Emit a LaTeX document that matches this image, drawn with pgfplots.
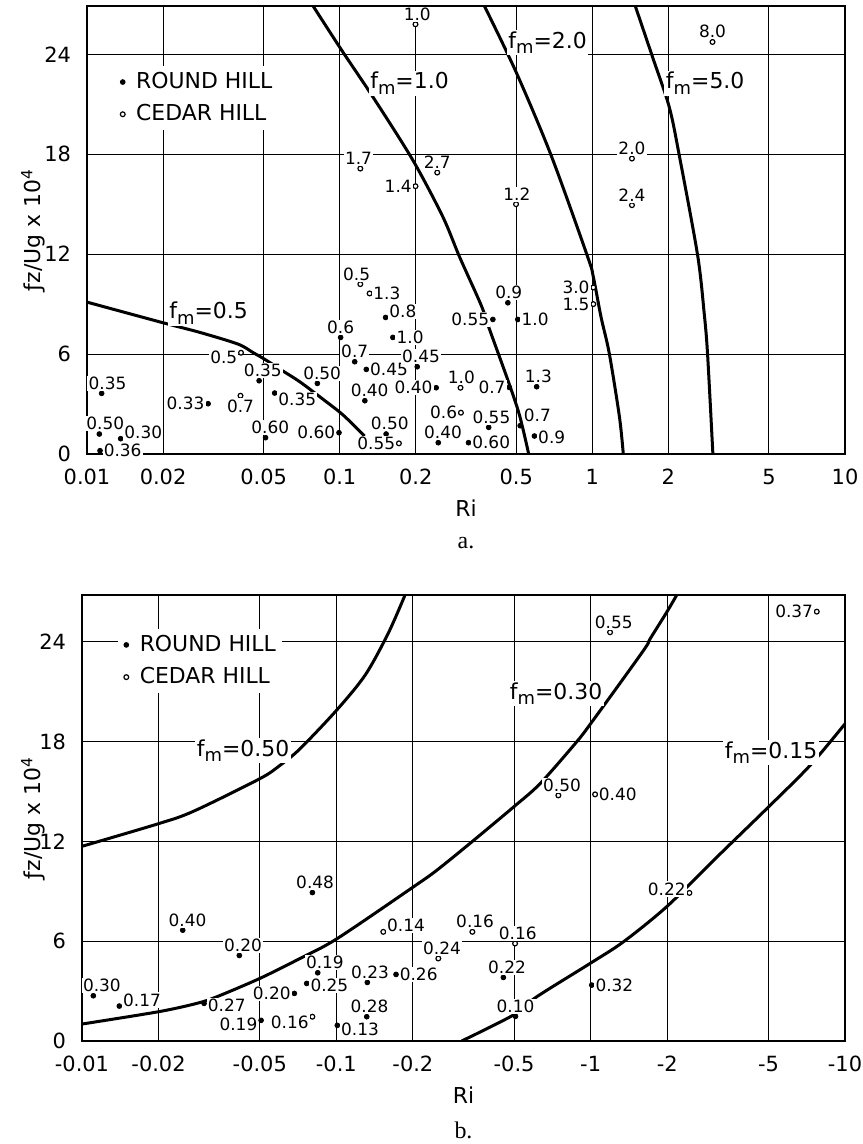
\documentclass[border=0pt]{standalone}
\usepackage{fontspec}
\setmainfont{DejaVu Sans}
\newfontfamily\capfont{Liberation Serif}
\usepackage{pgfplots}
\usepackage{pgfplotstable}
\pgfplotsset{compat=1.18}

% lab column: label text : anchor angle of the label
\pgfplotstableread{
x y lab
0.01143 3.64 0.35:240
0.01119 1.20 0.50:240
0.01359 0.92 0.30:195
0.01126 0.20 0.36:180
0.03016 3.02 0.33:0
0.0480 4.40 0.35:250
0.0509 0.98 0.60:245
0.0553 3.66 0.35:165
0.0816 4.24 0.50:245
0.0994 1.28 0.60:0
0.1009 7.0 0.6:270
0.1147 5.54 0.7:270
0.1275 5.08 0.45:180
0.1258 3.2 0.40:245
0.1520 8.2 0.8:200
0.1624 7.0 1.0:180
0.2028 5.24 0.45:250
0.241 3.98 0.40:0
0.1527 1.2 0.50:250
0.2456 0.68 0.40:245
0.3236 0.68 0.60:180
0.389 1.6 0.55:255
0.469 4.0 0.7:0
0.518 1.7 0.7:210
0.590 1.08 0.9:175
0.602 4.04 1.3:260
0.404 8.08 0.55:0
0.507 8.08 1.0:180
0.463 9.08 0.9:265
}\aRound

\pgfplotstableread{
x y lab
0.0405 3.5 0.7:90
0.0407 6.08 0.5:15
0.1716 0.64 0.55:0
0.3008 3.98 1.0:265
0.302 2.48 0.6:0
0.1207 10.2 0.5:290
0.1314 9.64 1.3:180
0.1207 17.14 1.7:280
0.2433 16.9 2.7:270
0.1996 16.08 1.4:0
0.1996 25.8 1.0:260
0.499 15.0 1.2:265
2.99 24.74 8.0:270
1.435 17.74 2.0:270
1.435 14.94 2.4:270
1.009 10.0 3.0:0
1.009 9.0 1.5:0
}\aCedar

\pgfplotstableread{
x y lab
0.01108 2.72 0.30:230
0.01402 2.1 0.17:195
0.02489 6.66 0.40:245
0.04155 5.14 0.20:250
0.0302 2.26 0.27:175
0.0506 1.24 0.19:10
0.0684 2.86 0.20:0
0.1009 0.94 0.13:170
0.0765 3.46 0.25:175
0.0845 4.1 0.19:235
0.0805 8.92 0.48:255
0.1324 3.52 0.23:255
0.1317 1.46 0.28:255
0.1717 4.0 0.26:180
0.4537 3.82 0.22:250
0.5064 1.48 0.10:270
1.01 3.36 0.32:180
}\bRound

\pgfplotstableread{
x y lab
0.0805 1.46 0.16:15
0.153 6.56 0.14:195
0.2518 4.96 0.24:250
0.3427 6.56 0.16:255
0.5044 5.86 0.16:255
2.445 8.9 0.22:350
0.7465 14.76 0.50:250
1.041 14.82 0.40:180
1.192 24.56 0.55:250
7.745 25.8 0.37:0
}\bCedar

\def\splitmeta#1:#2\relax{\gdef\ptlab{#1}\gdef\ptang{#2}}
\pgfplotsset{
  ptlabels/.style={point meta=explicit symbolic,
    nodes near coords={\ptlab},
    every node near coord/.append style={/utils/exec={\expandafter\splitmeta\pgfplotspointmeta\relax},
      anchor=\ptang, font=\fontsize{8.5}{9}\selectfont,
      inner sep=0.6bp, outer sep=1.3bp, fill=white, text=black}},
}
\tikzset{fmlab/.style={fill=white, inner sep=0.8bp, font=\fontsize{11}{13}\selectfont}}
\newcommand{\fm}[1]{f\raisebox{-0.45ex}{\fontsize{9}{9}\selectfont m}=#1}

\begin{document}
\begin{tikzpicture}
\useasboundingbox (0,0) rectangle (431.5bp,-572bp);
% ---------------- panel a ----------------
\begin{axis}[name=A, at={(43.5bp,-227bp)}, anchor=south west, scale only axis,
  width=379bp, height=224bp,
  xmode=log, xmin=0.01, xmax=10, ymin=0, ymax=26.9,
  xtick={0.01,0.02,0.05,0.1,0.2,0.5,1,2,5,10},
  xticklabels={0.01,0.02,0.05,0.1,0.2,0.5,1,2,5,10},
  minor xtick={},
  ytick={0,6,12,18,24}, yticklabels={0,6,12,18,24},
  grid=major, major grid style={black, line width=0.5bp},
  major tick length=0pt,
  axis line style={line width=0.9bp},
  tick label style={font=\fontsize{10.5}{12}\selectfont},
  xticklabel style={yshift=-4bp},
  yticklabel style={xshift=-4.5bp},
  xlabel={Ri},
  ylabel={ƒz/Ug x 10\textsuperscript{4}},
  x label style={at={(axis description cs:0.5,0)}, anchor=center, yshift=-27bp, font=\fontsize{11}{13}\selectfont},
  y label style={at={(axis description cs:-0.0712,0.5)}, anchor=center, font=\fontsize{11}{13}\selectfont},
  clip mode=individual,
  legend style={draw=none, fill=white, anchor=north west, font=\fontsize{11}{13}\selectfont,
      inner sep=1pt, row sep=2.5bp, legend cell align=left, at={(axis description cs:0.036,0.866)}},
  legend image code/.code={\path (0cm,0cm) (0.26cm,0cm); \draw[#1] plot coordinates {(0.1cm,0cm)};},
  ]
\addlegendimage{only marks, mark=*, mark size=1.2bp, black}
\addlegendentry{ROUND HILL}
\addlegendimage{only marks, mark=*, mark size=1.2bp, mark options={fill=white, draw=black, line width=0.6bp}}
\addlegendentry{CEDAR HILL}
\addplot[line width=1.5bp, smooth, tension=0.5, black, forget plot] coordinates {(0.01,9.12) (0.02,7.88) (0.028,7.3) (0.0396,6.6) (0.0453,6.1) (0.0506,5.68) (0.0594,5.0) (0.0695,4.34) (0.0847,3.36) (0.1032,2.34) (0.1254,1.08)};
\addplot[line width=1.5bp, smooth, tension=0.5, black, forget plot] coordinates {(0.0785,26.9) (0.1015,24.28) (0.1354,21.44) (0.1949,17.64) (0.2561,14.24) (0.2981,11.84) (0.363,8.94) (0.392,7.48) (0.463,4.44) (0.5147,2.34) (0.56,0)};
\addplot[line width=1.5bp, smooth, tension=0.5, black, forget plot] coordinates {(0.374,26.9) (0.499,22.94) (0.6866,17.94) (0.9583,11.84) (1.009,10.64) (1.082,8.24) (1.167,6.04) (1.28,2.24) (1.326,0)};
\addplot[line width=1.5bp, smooth, tension=0.5, black, forget plot] coordinates {(1.479,26.9) (1.731,23.84) (2.015,20.84) (2.208,17.94) (2.61,11.94) (2.772,8.44) (2.857,6.04) (3.0,0)};
\addplot[only marks, mark=*, mark size=1.2bp, black, forget plot, ptlabels]
  table[x=x, y=y, meta=lab] {\aRound};
\addplot[only marks, mark=*, mark size=1.2bp, mark options={fill=white, draw=black, line width=0.6bp}, forget plot, ptlabels]
  table[x=x, y=y, meta=lab] {\aCedar};
\node[fmlab] at (axis cs:0.0303,8.46) {\fm{0.5}};
\node[fmlab] at (axis cs:0.189,22.26) {\fm{1.0}};
\node[fmlab] at (axis cs:0.665,24.7) {\fm{2.0}};
\node[fmlab] at (axis cs:2.797,22.26) {\fm{5.0}};
\end{axis}
\node[font=\capfont\fontsize{12}{14}\selectfont] at ([yshift=-44.5bp]A.south) {a.};
% ---------------- panel b ----------------
\begin{axis}[name=B, at={(41bp,-520.5bp)}, anchor=south west, scale only axis,
  width=381.5bp, height=223bp,
  xmode=log, xmin=0.01, xmax=10, ymin=0, ymax=26.8,
  xtick={0.01,0.02,0.05,0.1,0.2,0.5,1,2,5,10},
  xticklabels={-0.01,-0.02,-0.05,-0.1,-0.2,-0.5,-1,-2,-5,-10},
  minor xtick={},
  ytick={0,6,12,18,24}, yticklabels={0,6,12,18,24},
  grid=major, major grid style={black, line width=0.5bp},
  major tick length=0pt,
  axis line style={line width=0.9bp},
  tick label style={font=\fontsize{10.5}{12}\selectfont},
  xticklabel style={yshift=-4bp},
  yticklabel style={xshift=-4.5bp},
  xlabel={Ri},
  ylabel={ƒz/Ug x 10\textsuperscript{4}},
  x label style={at={(axis description cs:0.5,0)}, anchor=center, yshift=-27bp, font=\fontsize{11}{13}\selectfont},
  y label style={at={(axis description cs:-0.0642,0.5)}, anchor=center, font=\fontsize{11}{13}\selectfont},
  clip mode=individual,
  legend style={draw=none, fill=white, anchor=north west, font=\fontsize{11}{13}\selectfont,
      inner sep=1pt, row sep=2.5bp, legend cell align=left, at={(axis description cs:0.047,0.924)}},
  legend image code/.code={\path (0cm,0cm) (0.26cm,0cm); \draw[#1] plot coordinates {(0.1cm,0cm)};},
  ]
\addlegendimage{only marks, mark=*, mark size=1.2bp, black}
\addlegendentry{ROUND HILL}
\addlegendimage{only marks, mark=*, mark size=1.2bp, mark options={fill=white, draw=black, line width=0.6bp}}
\addlegendentry{CEDAR HILL}
\addplot[line width=1.5bp, smooth, tension=0.5, black, forget plot] coordinates {(0.01,11.7) (0.02,13.06) (0.0274,13.8) (0.05,15.76) (0.060,16.56) (0.072,17.56) (0.1,19.86) (0.13,22.0) (0.16,24.5) (0.1863,26.8)};
\addplot[line width=1.5bp, smooth, tension=0.5, black, forget plot] coordinates {(0.01,1.02) (0.02,1.76) (0.02825,2.26) (0.0339,2.66) (0.05,3.76) (0.072,4.96) (0.1009,6.16) (0.2026,9.3) (0.2483,10.26) (0.3406,11.96) (0.5064,14.16) (0.632,15.46) (0.868,17.86) (1.01,19.16) (1.612,23.46) (1.712,24.16) (1.99,25.76) (2.18,26.8)};
\addplot[line width=1.5bp, smooth, tension=0.5, black, forget plot] coordinates {(0.311,0) (0.4966,1.56) (0.614,2.66) (0.9945,4.66) (1.345,5.96) (2.0,8.1) (3.16,11.1) (5.0,14.06) (7.29,16.56) (10,19.06)};
\addplot[only marks, mark=*, mark size=1.2bp, black, forget plot, ptlabels]
  table[x=x, y=y, meta=lab] {\bRound};
\addplot[only marks, mark=*, mark size=1.2bp, mark options={fill=white, draw=black, line width=0.6bp}, forget plot, ptlabels]
  table[x=x, y=y, meta=lab] {\bCedar};
\node[fmlab] at (axis cs:0.043,17.46) {\fm{0.50}};
\node[fmlab] at (axis cs:0.731,20.88) {\fm{0.30}};
\node[fmlab] at (axis cs:5.12,17.34) {\fm{0.15}};
\end{axis}
\node[font=\capfont\fontsize{12}{14}\selectfont] at ([yshift=-44.5bp]B.south) {b.};
\end{tikzpicture}
\end{document}
